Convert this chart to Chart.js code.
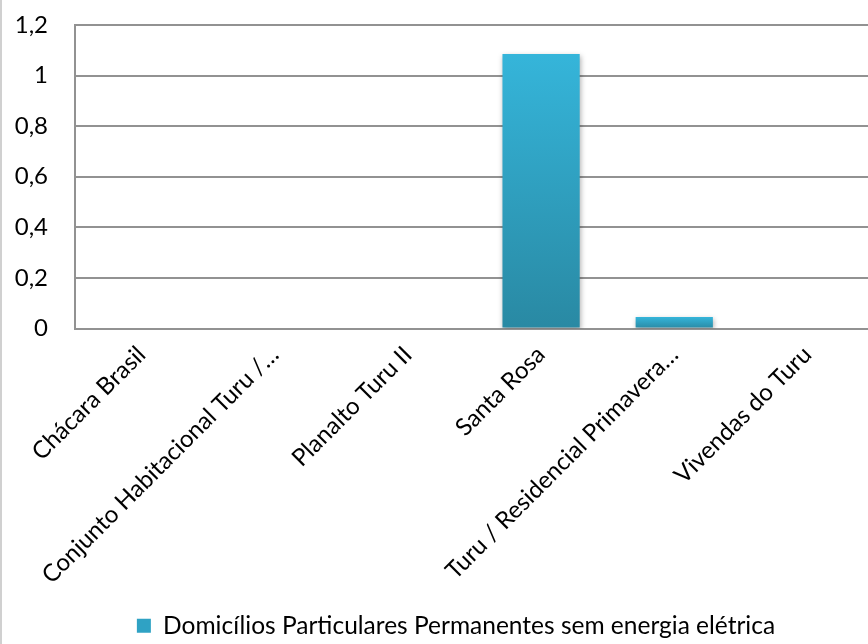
<!DOCTYPE html>
<html>
<head>
<meta charset="utf-8">
<script src="https://cdn.jsdelivr.net/npm/chart.js@4.4.1/dist/chart.umd.min.js"></script>
<style>
  html, body { margin: 0; padding: 0; background: #fff; overflow: hidden; }
  #wrap { position: relative; width: 868px; height: 644px; overflow: hidden; background: #fff; }
  #wrap canvas { position: absolute; left: 0; top: 0; }
  #edge { position: absolute; left: 0; top: 0; width: 2px; height: 644px; background: #d0d0d0; }
</style>
</head>
<body>
<div id="wrap">
  <canvas id="chart" width="876" height="644"></canvas>
  <div id="edge"></div>
</div>
<script>
// dados
const bairros = [
    'Chácara Brasil',
    'Conjunto Habitacional Turu /…',
    'Planalto Turu II',
    'Santa Rosa',
    'Turu / Residencial Primavera…',
    'Vivendas do Turu'
];
const semEnergia = [0, 0, 0, 1.085, 0.045, 0];
const serieNome = 'Domicílios Particulares Permanentes sem energia elétrica';
const yTicks = [0, 0.2, 0.4, 0.6, 0.8, 1, 1.2];
const yTickLabels = ['0', '0,2', '0,4', '0,6', '0,8', '1', '1,2'];

const FONT = "Lato, 'Open Sans', sans-serif";
const GRID = '#929292';
const SOLID = '#2fa2c4';

// sombra leve sob as barras
const barShadow = {
    id: 'barShadow',
    beforeDatasetsDraw(chart) {
        const ctx = chart.ctx;
        ctx.save();
        ctx.shadowColor = 'rgba(0,0,0,0.3)';
        ctx.shadowBlur = 5;
        ctx.shadowOffsetX = 1;
        ctx.shadowOffsetY = 2;
    },
    afterDatasetsDraw(chart) {
        chart.ctx.restore();
    }
};

// a legenda do original fica centrada num gráfico mais largo (recortado)
const legendShift = {
    id: 'legendShift',
    afterLayout(chart) {
        const L = chart.legend;
        if (!L) return;
        L.left += 19; L.right += 19;
        L.top += 4; L.bottom += 4;
    }
};

new Chart(document.getElementById('chart').getContext('2d'), {
    type: 'bar',
    data: {
        labels: bairros,
        datasets: [{
            label: serieNome,
            data: semEnergia,
            backgroundColor: function (c) {
                if (c.type !== 'data') return SOLID;
                const y = c.chart.scales.y;
                if (!y) return SOLID;
                const top = y.getPixelForValue(c.raw);
                const bot = y.getPixelForValue(0);
                if (!isFinite(top) || !isFinite(bot) || top >= bot) return SOLID;
                const g = c.chart.ctx.createLinearGradient(0, top, 0, bot);
                g.addColorStop(0, '#35b5da');
                g.addColorStop(1, '#2989a3');
                return g;
            },
            borderWidth: 0,
            categoryPercentage: 1,
            barPercentage: 0.58
        }]
    },
    options: {
        responsive: false,
        animation: false,
        layout: { padding: { left: 0, right: 2, top: 25, bottom: 0 } },
        plugins: {
            legend: {
                display: true,
                position: 'bottom',
                align: 'center',
                labels: {
                    boxWidth: 14,
                    boxHeight: 14,
                    color: '#000',
                    font: { family: FONT, size: 24.5 },
                    padding: 10
                }
            },
            tooltip: { enabled: false }
        },
        scales: {
            y: {
                min: 0,
                max: 1.2,
                afterBuildTicks: function (scale) {
                    scale.ticks = yTicks.map(v => ({ value: v }));
                },
                afterFit: function (scale) {
                    scale.width = 75;
                    scale.paddingTop = 0;
                    scale.paddingBottom = 0;
                },
                ticks: {
                    color: '#000',
                    font: { family: FONT, size: 24 },
                    padding: 27,
                    callback: function (v, i) { return yTickLabels[i]; }
                },
                grid: { color: GRID, lineWidth: 2, drawTicks: false },
                border: { display: true, color: GRID, width: 2 }
            },
            x: {
                afterFit: function (scale) {
                    scale.height = 271;
                    scale.paddingLeft = 0;
                    scale.paddingRight = 0;
                },
                ticks: {
                    color: '#000',
                    font: { family: FONT, size: 24 },
                    minRotation: 45,
                    maxRotation: 45,
                    autoSkip: false,
                    padding: 4
                },
                grid: { display: false },
                border: { display: true, color: GRID, width: 2 }
            }
        }
    },
    plugins: [barShadow, legendShift]
});
</script>
</body>
</html>
